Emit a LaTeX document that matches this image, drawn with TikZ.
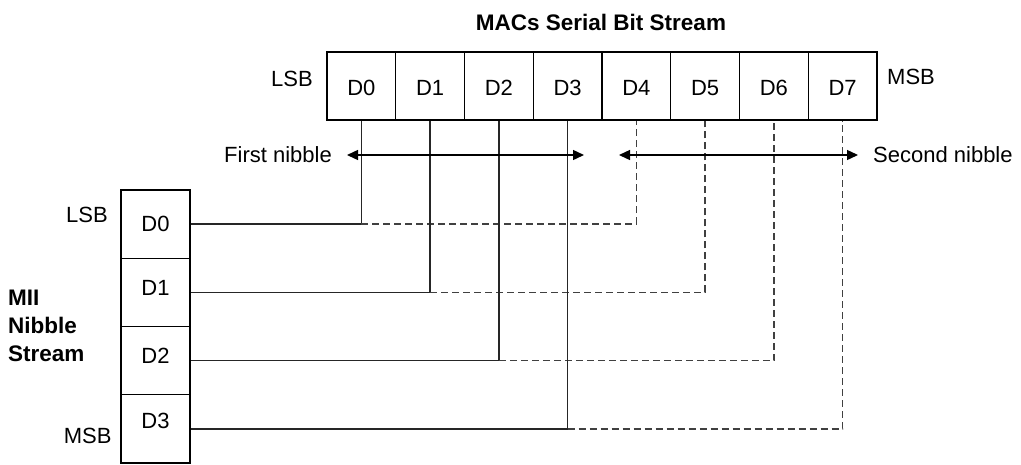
\documentclass[tikz,border=0pt]{standalone}
\usepackage{fontspec}
\setmainfont{Liberation Sans}
\usetikzlibrary{arrows.meta}
\begin{document}
\begin{tikzpicture}[x=1pt,y=-1pt,
  every node/.style={font=\fontsize{22}{28}\selectfont, inner sep=0pt},
  tcell/.style={draw=black, line width=1.4pt, minimum width=68.75pt, minimum height=68pt},
  lcell/.style={draw=black, line width=1.4pt, minimum width=69pt, minimum height=68.25pt},
  wire/.style={draw=black!85, line width=1.4pt},
  dwire/.style={draw=black!75, line width=1.4pt, dash pattern=on 7pt off 4pt},
  span/.style={draw=black, line width=1.4pt, {Triangle[length=11pt,width=10pt]}-{Triangle[length=11pt,width=10pt]}},
  bold/.style={font=\fontsize{22.5}{28}\selectfont\bfseries}
]
\useasboundingbox (0,0) rectangle (1021,464);

% title
\node[bold] (title) at (601,22) {MACs Serial Bit Stream};

% top row of cells
\foreach \i in {0,...,7}{
  \node[tcell] (t\i) at ({327+68.75*(\i+0.5)},86) {};
  \node (tt\i) at ({327+68.75*(\i+0.5)},88) {D\i};
}
\node[anchor=east] (tlsb) at (313,79) {LSB};
\node[anchor=west] (tmsb) at (887,77) {MSB};

% left column of cells
\foreach \i in {0,...,3}{
  \node[lcell] (l\i) at (155.5,{190+68.25*(\i+0.5)}) {};
}
\node (lt0) at (155.5,224) {D0};
\node (lt1) at (155.5,288) {D1};
\node (lt2) at (155.5,356) {D2};
\node (lt3) at (155.5,421) {D3};
\node[anchor=east] (llsb) at (108,215) {LSB};
\node[anchor=east] (lmsb) at (111.7,435.5) {MSB};
\node[bold, anchor=north west, align=left] (mii) at (8,289.5) {MII\\Nibble\\Stream};

% connectors
\foreach \i/\j in {0/4,1/5,2/6,3/7}{
  \coordinate (c\i) at (l\i.east -| t\i.south);
  \coordinate (d\i) at (l\i.east -| t\j.south);
  \draw[wire] (l\i.east) -- (c\i) -- (t\i.south);
  \draw[dwire] (c\i) -- (d\i) -- (t\j.south);
}

% nibble arrows
\coordinate (a1) at (347,155);
\coordinate (a2) at (584,155);
\coordinate (b1) at (619,155);
\coordinate (b2) at (858,155);
\draw[span] (a1) -- (a2);
\draw[span] (b1) -- (b2);
\node[anchor=east] (fn) at (332,155) {First nibble};
\node[anchor=west] (sn) at (873,155) {Second nibble};
\end{tikzpicture}
\end{document}
